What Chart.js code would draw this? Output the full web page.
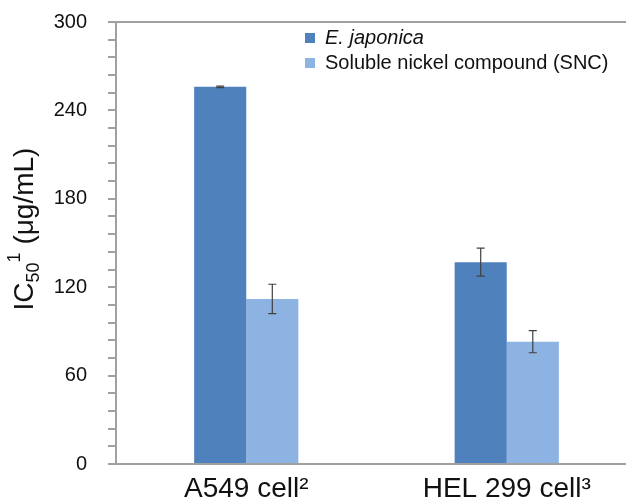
<!DOCTYPE html>
<html>
<head>
<meta charset="utf-8">
<script src="https://cdn.jsdelivr.net/npm/chart.js@4.4.1/dist/chart.umd.min.js"></script>
<style>
  html, body { margin: 0; padding: 0; background: #fff; overflow: hidden; }
  #wrap { width: 640px; height: 501px; position: relative; }
</style>
</head>
<body>
<div id="wrap"><canvas id="myChart"></canvas></div>
<script>
// data
var cells = ['A549 cell\u00B2', 'HEL 299 cell\u00B3'];
var seriesNames = ['E. japonica', 'Soluble nickel compound (SNC)'];
var japonica = [256, 137];
var japonicaErr = [0.5, 9.5];
var snc = [112, 83];
var sncErr = [10, 7.5];
var yTicks = [0, 60, 120, 180, 240, 300];

var axisGray = '#a0a0a0';
var font = '"Liberation Sans", Arial, sans-serif';

// error bars drawn through the y scale
var errorBars = {
    id: 'errorBars',
    afterDatasetsDraw: function (chart) {
        var c = chart.ctx;
        var y = chart.scales.y;
        c.save();
        c.strokeStyle = '#404040';
        c.lineWidth = 1.2;
        chart.data.datasets.forEach(function (ds, i) {
            var meta = chart.getDatasetMeta(i);
            meta.data.forEach(function (bar, j) {
                var v = ds.data[j], e = ds.errors[j];
                var top = y.getPixelForValue(v + e);
                var bot = y.getPixelForValue(v - e);
                c.beginPath();
                c.moveTo(bar.x, top); c.lineTo(bar.x, bot);
                c.moveTo(bar.x - 4, top); c.lineTo(bar.x + 4, top);
                c.moveTo(bar.x - 4, bot); c.lineTo(bar.x + 4, bot);
                c.stroke();
            });
        });
        c.restore();
    }
};

// y title with sub/superscript, and legend with italic species name
var extras = {
    id: 'extras',
    afterDraw: function (chart) {
        var c = chart.ctx;
        c.save();
        // y axis title
        var parts = [
            { t: 'IC', f: '28px ' + font, dy: 0 },
            { t: '50', f: '18px ' + font, dy: 6 },
            { t: '1', f: '18px ' + font, dy: -13 },
            { t: ' (\u03BCg/mL)', f: '28px ' + font, dy: 0 }
        ];
        var total = 0;
        parts.forEach(function (p) { c.font = p.f; p.w = c.measureText(p.t).width; total += p.w; });
        c.translate(33, 229);
        c.rotate(-Math.PI / 2);
        c.fillStyle = '#111';
        c.textBaseline = 'alphabetic';
        var x = -total / 2;
        parts.forEach(function (p) {
            c.font = p.f;
            c.fillText(p.t, x, p.dy);
            x += p.w;
        });
        c.restore();

        // legend
        c.save();
        c.textBaseline = 'middle';
        chart.data.datasets.forEach(function (ds, i) {
            var cy = 38 + i * 25;
            c.fillStyle = ds.backgroundColor;
            c.fillRect(305, cy - 5, 10, 10);
            c.fillStyle = '#111';
            c.font = (i === 0 ? 'italic ' : '') + '20px ' + font;
            c.fillText(ds.label, 325, cy);
        });
        c.restore();
    }
};

var ctx = document.getElementById('myChart').getContext('2d');
var chart = new Chart(ctx, {
    type: 'bar',
    data: {
        labels: cells,
        datasets: [{
            label: seriesNames[0],
            data: japonica,
            errors: japonicaErr,
            backgroundColor: '#4f81bd'
        }, {
            label: seriesNames[1],
            data: snc,
            errors: sncErr,
            backgroundColor: '#8db3e2'
        }]
    },
    options: {
        responsive: true,
        maintainAspectRatio: false,
        animation: false,
        layout: { padding: { left: 0, top: 22, right: 3, bottom: 0 } },
        datasets: { bar: { barPercentage: 1, categoryPercentage: 0.4 } },
        plugins: { legend: { display: false }, tooltip: { enabled: false } },
        scales: {
            x: {
                grid: { display: false, drawTicks: false },
                border: { display: true, color: axisGray, width: 2 },
                ticks: { color: '#111', font: { family: font, size: 28 }, padding: 8 },
                afterFit: function (s) { s.height = 37; s.paddingLeft = 0; s.paddingRight = 0; }
            },
            y: {
                min: 0,
                max: 300,
                grid: {
                    drawOnChartArea: true,
                    color: function (c) { return c.tick && c.tick.value === 300 ? axisGray : 'rgba(0,0,0,0)'; },
                    lineWidth: 2,
                    tickColor: axisGray,
                    tickLength: 8
                },
                border: { display: true, color: axisGray, width: 2 },
                ticks: {
                    stepSize: 12,
                    padding: 21,
                    color: '#111',
                    font: { family: font, size: 20 },
                    autoSkip: false,
                    callback: function (v) { return yTicks.indexOf(v) >= 0 ? v : ''; }
                },
                afterFit: function (s) { s.width = 116; s.paddingTop = 0; s.paddingBottom = 0; }
            }
        }
    },
    plugins: [errorBars, extras]
});
</script>
</body>
</html>
